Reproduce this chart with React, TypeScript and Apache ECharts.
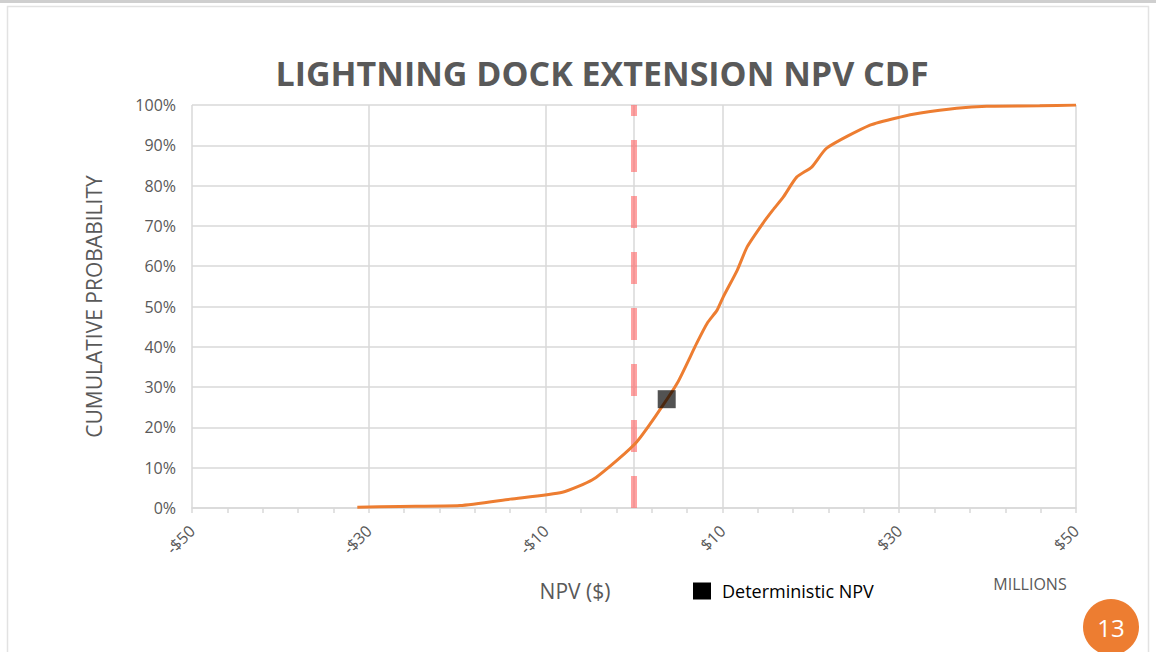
import React, { useEffect, useRef } from "react";
import * as echarts from "echarts";

// NPV in $ millions, cumulative probability in %
const npvValues = [
  -31.3, -26.5, -19.7, -14.0, -8.1, -4.7, -1.9, 0.3, 2.5, 4.9, 7.1, 8.3, 9.4,
  10.1, 11.7, 12.8, 14.6, 15.7, 16.9, 18.4, 20.1, 21.8, 26.7, 30.1, 32.4, 36.5,
  39.9, 45.9, 50.0,
];
const cumulativePct = [
  0.2, 0.4, 0.6, 2.2, 3.9, 7.0, 11.9, 16.4, 23.0, 31.0, 40.9, 45.9, 49.1, 52.4,
  59.1, 64.8, 70.7, 73.9, 77.2, 82.1, 84.6, 89.3, 95.0, 97.0, 98.0, 99.2, 99.7,
  99.8, 100.0,
];
const deterministicNpv = [[3.7, 27.0]];
const zeroLine = [
  [0, 0],
  [0, 100],
];

const xMin = -50;
const xMax = 50;
const xStep = 20;
const yMin = 0;
const yMax = 100;
const yStep = 10;

const titleText = "LIGHTNING DOCK EXTENSION NPV CDF";
const yAxisTitle = "CUMULATIVE PROBABILITY";
const xAxisTitle = "NPV ($)";
const unitsLabel = "MILLIONS";
const pageNumber = "13";

const GRAY = "#595959";
const GRID = "#d9d9d9";
const ORANGE = "#ED7D31";

export default function App() {
  const ref = useRef<HTMLDivElement>(null);
  useEffect(() => {
    if (!ref.current) return;
    const chart = echarts.init(ref.current, undefined, { renderer: "svg" });
    const curve = npvValues.map((x, i) => [x, cumulativePct[i]]);
    chart.setOption({
      animation: false,
      backgroundColor: "#ffffff",
      grid: { left: 192, right: 80, top: 105, bottom: 144 },
      legend: {
        data: [{ name: "Deterministic NPV", icon: "rect" }],
        left: 688,
        top: 577,
        itemWidth: 18,
        itemHeight: 17,
        itemGap: 12,
        itemStyle: { color: "#000000", opacity: 1 },
        textStyle: { color: "#000", fontSize: 18, fontFamily: "Open Sans", padding: [0, 0, 0, 6] },
      },
      xAxis: {
        type: "value",
        min: xMin,
        max: xMax,
        interval: xStep,
        axisLine: { show: true, lineStyle: { color: GRID, width: 1.5 } },
        axisTick: { show: true, length: 5, lineStyle: { color: GRID, width: 1.5 } },
        minorTick: { show: true, splitNumber: 5, length: 5, lineStyle: { color: GRID, width: 1.5 } },
        splitLine: { show: true, lineStyle: { color: GRID, width: 1.5 } },
        axisLabel: {
          rotate: 45,
          color: GRAY,
          fontSize: 16,
          fontFamily: "Open Sans",
          margin: 20,
          formatter: (v: number) => (v < 0 ? `-$${-v}` : `$${v}`),
        },
      },
      yAxis: {
        type: "value",
        min: yMin,
        max: yMax,
        interval: yStep,
        axisLine: { show: true, lineStyle: { color: GRID, width: 1.5 } },
        axisTick: { show: false },
        splitLine: { show: true, lineStyle: { color: GRID, width: 1.5 } },
        axisLabel: {
          color: GRAY,
          fontSize: 16,
          fontFamily: "Open Sans",
          margin: 16,
          formatter: "{value}%",
        },
        name: yAxisTitle,
        nameLocation: "middle",
        nameGap: 88,
        nameTextStyle: { color: GRAY, fontSize: 21, fontFamily: "Open Sans" },
      },
      series: [
        {
          name: "Zero",
          type: "line",
          data: zeroLine,
          symbol: "none",
          silent: true,
          lineStyle: { color: "rgba(255,100,100,0.6)", width: 6, type: [32, 24] },
          z: 2,
        },
        {
          name: "NPV CDF",
          type: "line",
          data: curve,
          symbol: "none",
          smooth: 0.2,
          lineStyle: { color: ORANGE, width: 3 },
          z: 3,
        },
        {
          name: "Deterministic NPV",
          type: "scatter",
          data: deterministicNpv,
          symbol: "rect",
          symbolSize: 18,
          itemStyle: { color: "rgba(0,0,0,0.85)" },
          z: 4,
        },
      ],
      graphic: [
        {
          type: "rect",
          shape: { x: 0, y: 0, width: 1156, height: 3 },
          style: { fill: "#cfcfcf" },
          silent: true,
        },
        {
          type: "rect",
          shape: { x: 7.5, y: 6.5, width: 1141, height: 660 },
          style: { fill: "none", stroke: "#e2e2e2", lineWidth: 1.5 },
          silent: true,
        },
        {
          type: "text",
          x: 602,
          y: 73,
          style: {
            text: titleText,
            fill: GRAY,
            font: "bold 34px 'Open Sans'",
            textAlign: "center",
            textVerticalAlign: "middle",
          },
        },
        {
          type: "text",
          x: 575,
          y: 591,
          style: {
            text: xAxisTitle,
            fill: GRAY,
            font: "21px 'Open Sans'",
            textAlign: "center",
            textVerticalAlign: "middle",
          },
        },
        {
          type: "text",
          x: 1030,
          y: 584,
          style: {
            text: unitsLabel,
            fill: GRAY,
            font: "16px 'Open Sans'",
            textAlign: "center",
            textVerticalAlign: "middle",
          },
        },
        {
          type: "circle",
          shape: { cx: 1111, cy: 627, r: 28 },
          style: { fill: ORANGE },
        },
        {
          type: "text",
          x: 1111,
          y: 627,
          style: {
            text: pageNumber,
            fill: "#ffffff",
            font: "24px 'Open Sans'",
            textAlign: "center",
            textVerticalAlign: "middle",
          },
        },
      ],
    });
    return () => chart.dispose();
  }, []);
  return (
    <div
      ref={ref}
      style={{ position: "fixed", left: 0, top: 0, width: 1156, height: 652, background: "#fff" }}
    />
  );
}
